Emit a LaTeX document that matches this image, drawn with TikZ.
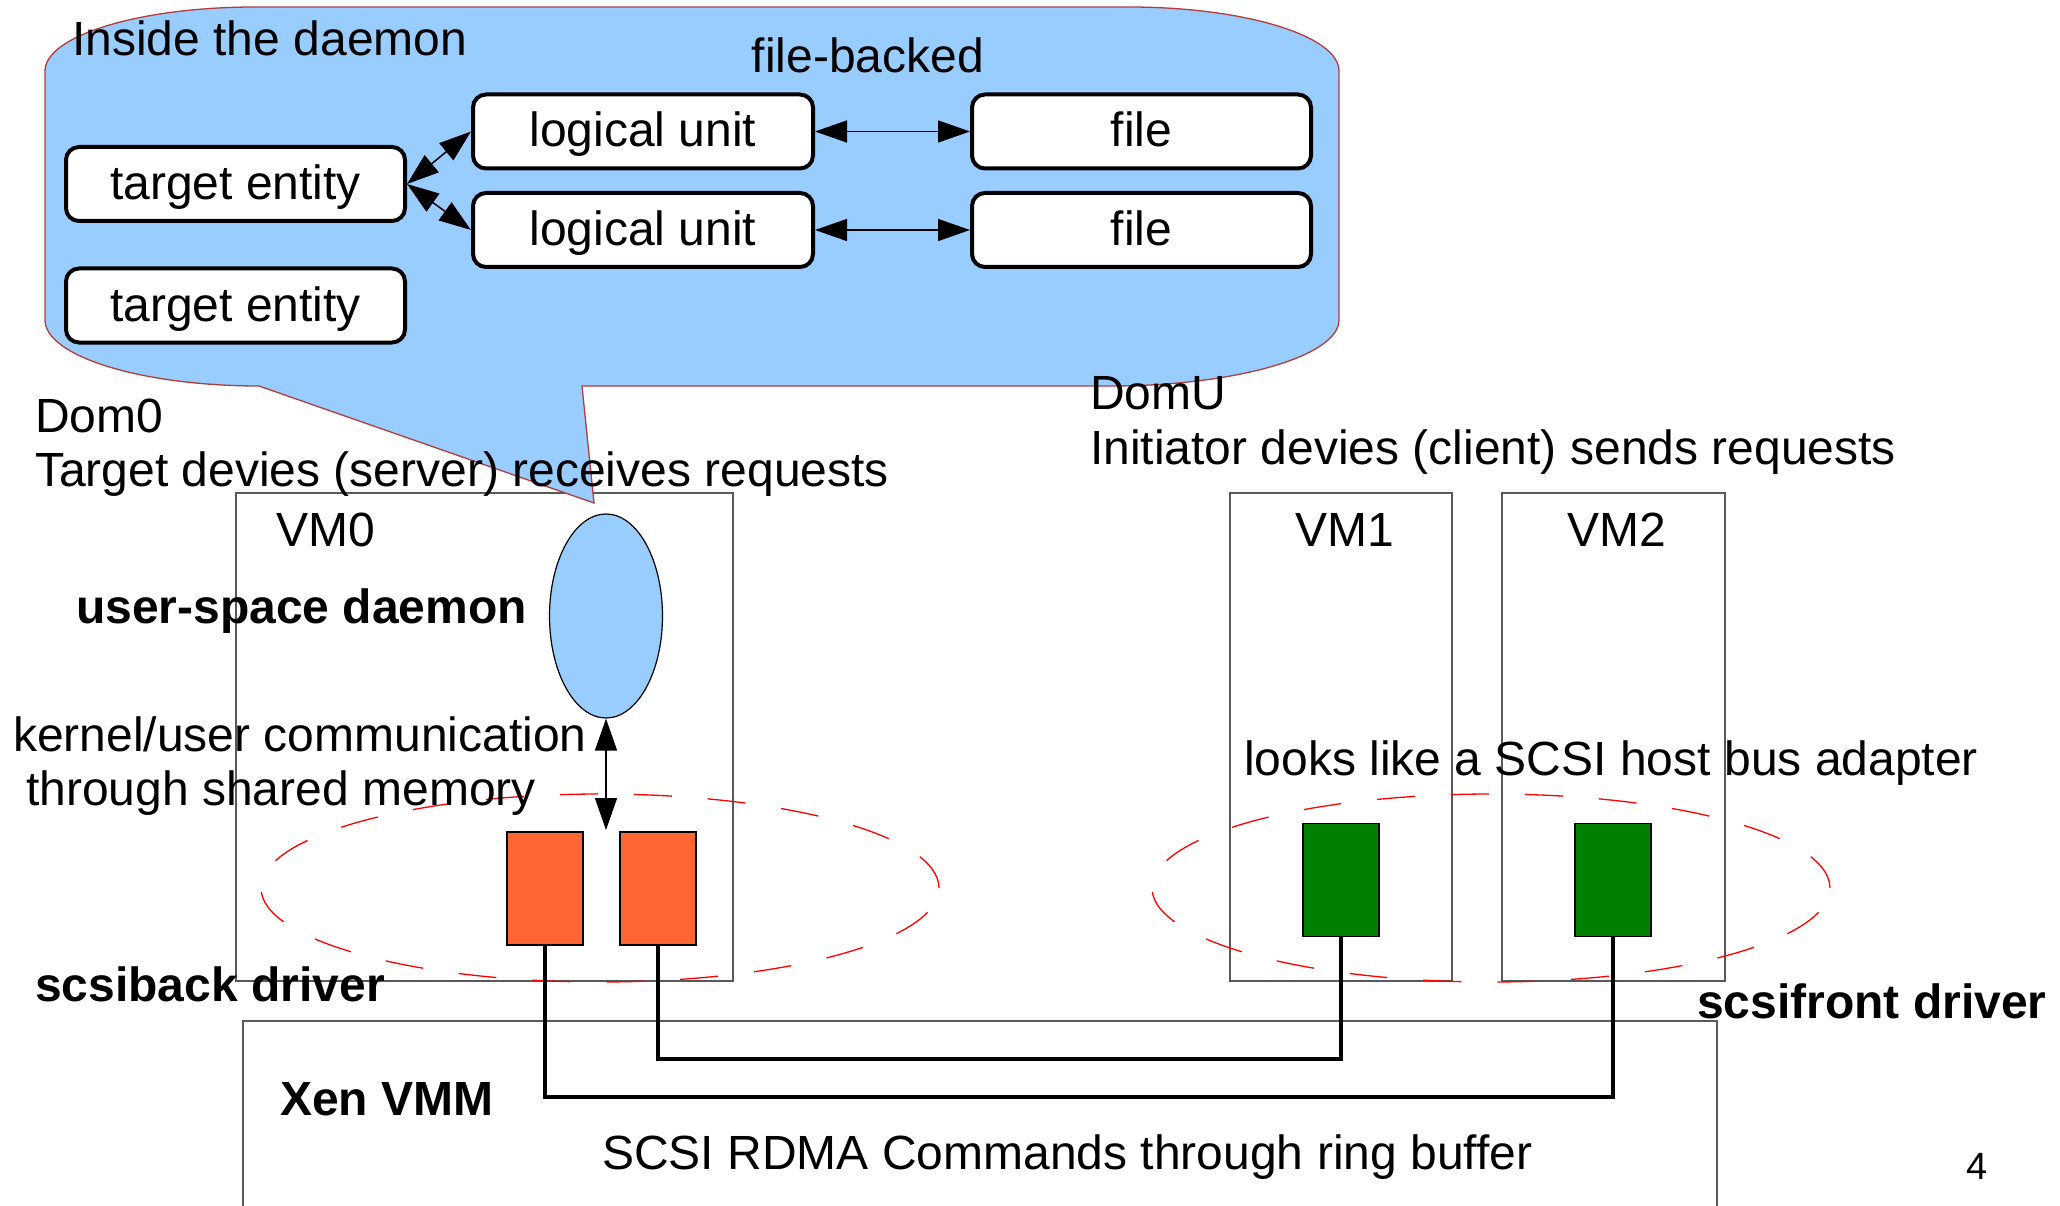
\documentclass[tikz,border=0pt]{standalone}
\usepackage{fontspec}
\setmainfont{Liberation Sans}
\usetikzlibrary{arrows.meta,shapes.geometric}
\definecolor{calloutblue}{HTML}{99CCFF}
\definecolor{calloutred}{HTML}{B33C3C}
\definecolor{orangebox}{HTML}{FF6633}
\definecolor{greenbox}{HTML}{008000}
\tikzset{
  txt/.style={inner sep=0pt, font=\fontsize{48}{58}\selectfont},
  btxt/.style={inner sep=0pt, font=\fontsize{48}{58}\selectfont\bfseries},
  entbox/.style={draw=black, line width=4pt, fill=white, rounded corners=13pt,
    minimum width=339pt, minimum height=74pt, inner sep=0pt,
    font=\fontsize{48}{58}\selectfont, text height=38pt, text depth=7pt},
  vmbox/.style={draw=black!65, line width=1.3pt},
  drv/.style={draw=black, line width=1.2pt, inner sep=0pt, minimum width=76pt, minimum height=113pt},
  dbl/.style={{Triangle[length=32pt,width=22pt]}-{Triangle[length=32pt,width=22pt]}, line width=1.5pt},
  wire/.style={line width=3.5pt},
  grp/.style={draw=red, line width=1.3pt, dash pattern=on 38pt off 36pt, ellipse,
    minimum width=678pt, minimum height=188pt, inner sep=0pt},
}
\begin{document}
\begin{tikzpicture}[x=1pt,y=-1pt]
\useasboundingbox (0,0) rectangle (2060,1206);
\fill[white] (0,0) rectangle (2060,1206);

% VM boxes
\draw[vmbox] (236,493) rectangle (733,981);
\draw[vmbox] (1230,493) rectangle (1452,981);
\draw[vmbox] (1502,493) rectangle (1725,981);
% Xen VMM box (open at the bottom edge of the page)
\draw[vmbox] (243,1215) -- (243,1021) -- (1717,1021) -- (1717,1215);

% callout
\filldraw[fill=calloutblue, draw=calloutred, line width=1.3pt]
  (45,71) .. controls (45,36) and (139,7) .. (255,7) -- (1129,7)
  .. controls (1245,7) and (1339,36) .. (1339,71) -- (1339,320)
  .. controls (1339,356) and (1236,386) .. (1110,386) -- (582,386) -- (594,503) -- (259,386)
  .. controls (141,386) and (45,356) .. (45,320) -- cycle;

% inside the daemon
\node[entbox] (te1) at (235.5,184) {target entity};
\node[entbox] (te2) at (235.5,305.5) {target entity};
\node[entbox, minimum width=340pt] (lu1) at (643,131.5) {logical unit};
\node[entbox, minimum width=340pt] (lu2) at (643,230) {logical unit};
\node[entbox] (f1) at (1141.5,131.5) {file};
\node[entbox] (f2) at (1141.5,230) {file};
\draw[dbl] (te1.east) -- (lu1.west);
\draw[dbl] (te1.east) -- (lu2.west);
\draw[dbl] (lu1.east) -- (f1.west);
\draw[dbl] (lu2.east) -- (f2.west);
\node[txt, anchor=base west] (inside) at (72,56) {Inside the daemon};
\node[txt, anchor=base] (fb) at (868,73) {file-backed};

% daemon ellipse and groups
\node[ellipse, draw=black, line width=1.2pt, fill=calloutblue, minimum width=113pt, minimum height=204pt, inner sep=0pt] (daemon) at (606,616) {};
\node[grp] (grpL) at (600,888) {};
\node[grp] (grpR) at (1491,888) {};

\node[drv, fill=orangebox] (o1) at (545,888.5) {};
\node[drv, fill=orangebox] (o2) at (658,888.5) {};
\node[drv, fill=greenbox] (g1) at (1341,880) {};
\node[drv, fill=greenbox] (g2) at (1613,880) {};

\coordinate (memtip) at (606,830);
\draw[dbl] (daemon.south) -- (memtip);

\draw[wire] (g1.south) -- (g1.south |- 0,1059) -| (o2.south);
\draw[wire] (g2.south) -- (g2.south |- 0,1097) -| (o1.south);

% texts
\node[txt, anchor=base west] (dom0) at (35,432) {Dom0};
\node[txt, anchor=base west] (tgt) at (35,486) {Target devies (server) receives requests};
\node[txt, anchor=base west] (domu) at (1090,409) {DomU};
\node[txt, anchor=base west] (ini) at (1090,464) {Initiator devies (client) sends requests};
\node[txt, anchor=base] (vm0) at (326,546) {VM0};
\node[txt, anchor=base] (vm1) at (1345,546) {VM1};
\node[txt, anchor=base] (vm2) at (1617,546) {VM2};
\node[btxt, anchor=base west] (usd) at (76,623) {user-space daemon};
\node[txt, anchor=base west] (kuc) at (13,751) {kernel/user communication};
\node[txt, anchor=base west] (tsm) at (26,805) {through shared memory};
\node[txt, anchor=base west] (llike) at (1244,775) {looks like a SCSI host bus adapter};
\node[btxt, anchor=base west] (sback) at (35,1001) {scsiback driver};
\node[btxt, anchor=base west] (sfront) at (1697,1018) {scsifront driver};
\node[btxt, anchor=base west] (xen) at (280,1115) {Xen VMM};
\node[txt, anchor=base west] (rdma) at (602,1169) {SCSI RDMA Commands through ring buffer};
\node[inner sep=0pt, font=\fontsize{38}{46}\selectfont, anchor=base] (pg) at (1977,1179) {4};
\end{tikzpicture}
\end{document}
